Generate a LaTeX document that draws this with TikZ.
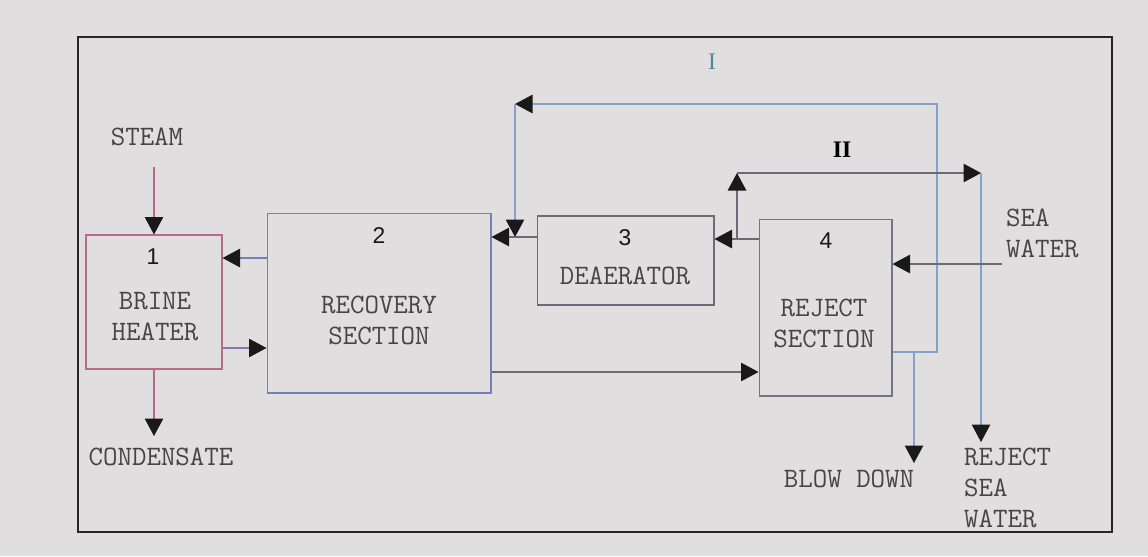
\documentclass[tikz,border=0pt]{standalone}
\usepackage{fontspec}
\setmainfont{Liberation Serif}
\newfontfamily\numfont{Liberation Sans}
\usetikzlibrary{positioning,arrows.meta}
\definecolor{paper}{HTML}{E0DEDF}
\definecolor{txt}{HTML}{454545}
\definecolor{heatpink}{HTML}{B86A8C}
\definecolor{recblue}{HTML}{7480B8}
\definecolor{boxgray}{HTML}{6A6A78}
\definecolor{loopblue}{HTML}{86A2CC}
\definecolor{romteal}{HTML}{4C8A98}

\begin{document}
\begin{tikzpicture}[x=0.02cm,y=-0.02cm,
  every node/.style={font=\ttfamily\fontsize{16}{17.6}\selectfont,text=txt},
  blk/.style={draw,line width=0.6pt,inner sep=0pt},
  num/.style={font=\numfont\fontsize{13}{14}\selectfont,text=black!90},
  rom/.style={font=\fontsize{13.5}{15}\selectfont},
  fl/.style={line width=0.6pt,-{Triangle[length=0.35cm,width=0.37cm,color=black!90]}}]

\fill[paper] (0,0) rectangle (1148,556);
\useasboundingbox (0,0) rectangle (1148,556);
\draw[line width=1.6pt,black!85] (78,37) rectangle (1112,532);

% units
\node[blk,draw=heatpink,minimum width=2.72cm,minimum height=2.68cm] (b1) at (154,302) {};
\node[blk,draw=recblue,minimum width=4.48cm,minimum height=3.6cm] (b2) at (379,303) {};
\node[blk,draw=boxgray,minimum width=3.54cm,minimum height=1.78cm] (b3) at (625.5,260.5) {};
\node[blk,draw=boxgray!80!loopblue,minimum width=2.66cm,minimum height=3.54cm] (b4) at (825.5,307.5) {};

\node[num] (n1) at (153,257) {1};
\node[num] (n2) at (379,236) {2};
\node[num] (n3) at (625,238) {3};
\node[num] (n4) at (826,241) {4};

\node[align=center] (t1) at (155,317) {BRINE\\HEATER};
\node[align=center] (t2) at (379,320) {RECOVERY\\SECTION};
\node (t3) at (625,276) {DEAERATOR};
\node[align=center] (t4) at (824,323) {REJECT\\SECTION};

% streams
\node (steam) at (147,137) {STEAM};
\node (cond) at (161,457) {CONDENSATE};
\node[align=left,anchor=west] (sea) at (1000,233) {SEA\\WATER};
\node (blow) at (849,479) {BLOW DOWN};
\node[align=left,anchor=west] (rej) at (958,488) {REJECT\\SEA\\WATER};
\node[rom,text=romteal] (r1) at (712,62) {I};
\node[rom,text=black] (r2lbl) at (842,150) {\textbf{II}};

\coordinate (stm) at (154,167);
\coordinate (cnd) at (154,436);
\draw[fl,heatpink] (stm) -- (b1.north);
\draw[fl,heatpink] (b1.south) -- (cnd);

\draw[fl,recblue] ([yshift=0.9cm]b2.west) -- ([yshift=0.9cm]b2.west -| b1.east);
\draw[fl,recblue!70!heatpink] ([yshift=-0.92cm]b1.east) -- ([yshift=-0.92cm]b1.east -| b2.west);
\draw[fl,boxgray] ([yshift=-1.38cm]b2.east) -- ([yshift=-1.38cm]b2.east -| b4.west);

% loop I
\coordinate (o1) at (937,352);
\coordinate (u1) at (937,104);
\coordinate (c1) at (515,104);
\coordinate (j1) at (515,237);
\draw[fl,loopblue] (b4.east |- o1) -- (o1) -- (u1) -- (c1);
\draw[fl,loopblue] (c1) -- (j1);
\draw[fl,boxgray] (b3.west |- j1) -- (b2.east |- j1);

\coordinate (bd0) at (914,352);
\coordinate (bd1) at (914,463);
\draw[fl,loopblue] (bd0) -- (bd1);

% loop II
\coordinate (j2) at (737,239);
\coordinate (c2) at (737,173);
\coordinate (rt2) at (981,173);
\coordinate (rsw) at (981,442);
\draw[fl,boxgray] (b4.west |- j2) -- (b3.east |- j2);
\draw[fl,boxgray] (j2) -- (c2);
\draw[fl,boxgray] (c2) -- (rt2);
\draw[fl,loopblue] (rt2) -- (rsw);

\coordinate (sw) at (1002,264);
\draw[fl,boxgray] (sw) -- (sw -| b4.east);
\end{tikzpicture}
\end{document}
